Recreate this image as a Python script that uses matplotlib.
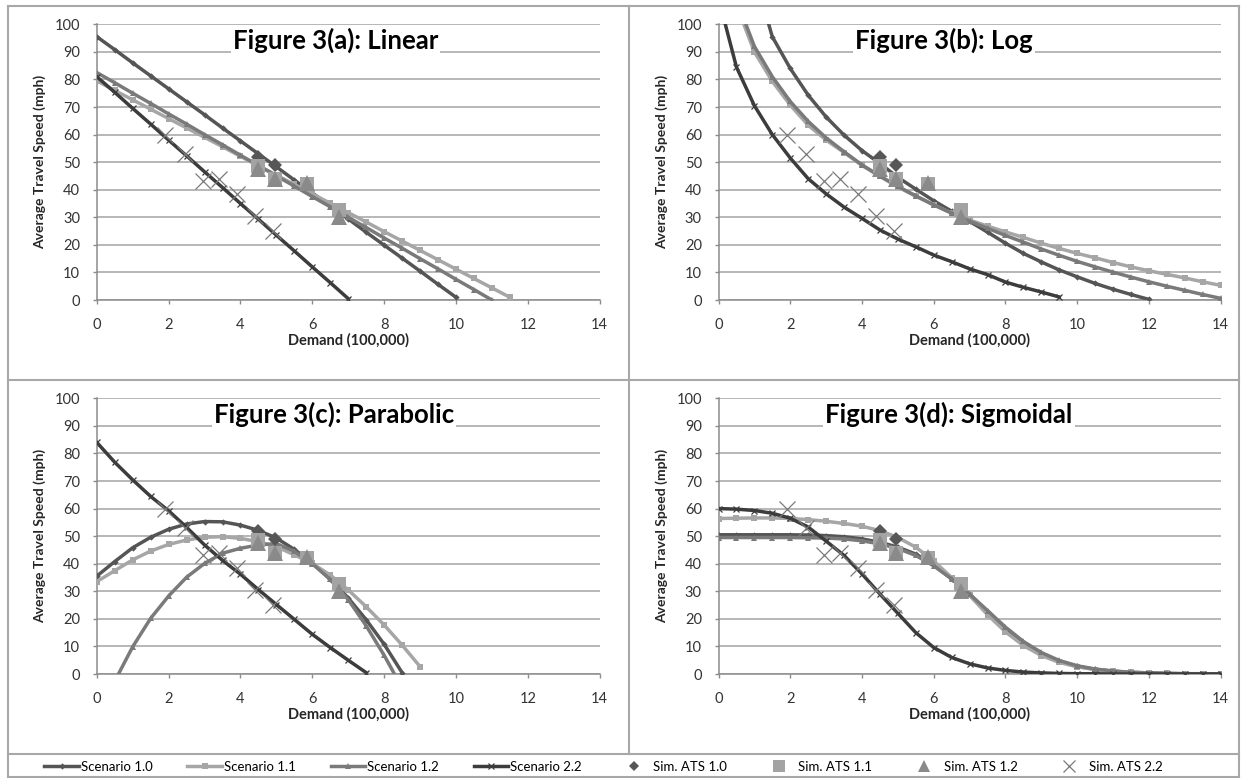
import matplotlib.pyplot as plt
from matplotlib.lines import Line2D

plt.rcParams['font.family'] = ['Lato', 'DejaVu Sans']

W, H = 1243, 778

# ---- data: Demand (100,000) vs Average Travel Speed (mph) ----
XS = [0, 0.5, 1, 1.5, 2, 2.5, 3, 3.5, 4, 4.5, 5, 5.5, 6, 6.5, 7,
      7.5, 8, 8.5, 9, 9.5, 10, 10.5, 11, 11.5, 12, 12.5, 13, 13.5, 14]

# (a) linear
a10_x = XS[:21]
a10_y = [95.5, 90.8, 86.0, 81.3, 76.6, 71.9, 67.2, 62.4, 57.7, 53.0, 48.3,
         43.5, 38.8, 34.1, 29.4, 24.6, 19.9, 15.2, 10.5, 5.7, 1.0]
a11_x = XS[:24]
a11_y = [79.5, 76.0, 72.6, 69.2, 65.8, 62.4, 59.0, 55.6, 52.1, 48.7, 45.3,
         41.9, 38.5, 35.1, 31.7, 28.3, 24.8, 21.4, 18.0, 14.6, 11.2, 7.8, 4.4, 1.0]
a12_x = XS[:23]
a12_y = [82.5, 78.8, 75.0, 71.3, 67.5, 63.8, 60.0, 56.3, 52.5, 48.8, 45.0,
         41.3, 37.5, 33.8, 30.0, 26.3, 22.5, 18.8, 15.0, 11.3, 7.5, 3.8, 0.0]
a22_x = XS[:15]
a22_y = [81.0, 75.3, 69.5, 63.8, 58.0, 52.3, 46.5, 40.8, 35.0, 29.3, 23.5,
         17.8, 12.0, 6.3, 0.5]

# (b) log
b10_x = XS[2:25]
b10_y = [118, 95.5, 84.0, 74.3, 66.4, 59.8, 54.2, 49.5, 44.5, 40.2, 36.0,
         32.2, 28.5, 24.6, 20.6, 16.9, 13.8, 10.9, 8.4, 6.0, 3.9, 2.0, 0.2]
b11_x = XS[1:]
b11_y = [107, 90.0, 79.3, 70.7, 63.4, 58.0, 53.5, 48.8, 44.8, 41.0, 37.6,
         34.5, 31.5, 29.0, 26.8, 24.7, 22.7, 20.6, 18.7, 16.9, 15.3, 13.6,
         12.0, 10.6, 9.3, 8.0, 6.6, 5.3]
b12_x = XS[1:]
b12_y = [109, 92.0, 81.0, 72.0, 64.8, 58.8, 53.8, 49.0, 45.0, 41.2, 37.8,
         34.5, 31.5, 28.6, 26.0, 23.4, 21.0, 18.5, 16.2, 14.0, 12.0, 10.1,
         8.3, 6.6, 5.0, 3.5, 2.0, 0.6]
b22_x = [0.15] + XS[1:20]
b22_y = [102, 84.5, 70.5, 60.0, 51.5, 44.0, 38.5, 33.7, 29.6, 25.4, 22.1,
         19.3, 16.3, 13.9, 11.3, 9.2, 6.5, 4.6, 2.9, 1.1]

# (c) parabolic
c10_x = XS[:18]
c10_y = [35.5, 40.8, 45.8, 49.6, 52.5, 54.4, 55.3, 55.2, 54.0, 52.1, 49.3,
         45.2, 40.2, 34.4, 27.6, 19.7, 10.8, 0.5]
c11_x = XS[:19]
c11_y = [33.5, 37.5, 41.4, 44.6, 47.0, 48.6, 49.6, 49.8, 49.2, 48.0, 46.2,
         43.2, 40.1, 35.9, 30.5, 24.4, 17.8, 10.5, 2.7]
c12_x = XS[1:18]
c12_y = [-2.6, 9.9, 20.2, 28.3, 35.1, 40.1, 43.8, 45.6, 46.8, 47.3, 44.5,
         40.0, 34.3, 27.0, 17.5, 6.8, -5.0]
c22_x = XS[:16]
c22_y = [84.0, 76.8, 70.4, 64.4, 59.2, 53.2, 46.8, 41.2, 36.2, 30.6, 25.2,
         19.8, 14.4, 9.6, 5.0, 0.5]

# (d) sigmoidal
d10_x = XS
d10_y = [50.5, 50.5, 50.5, 50.5, 50.5, 50.4, 50.2, 49.8, 49.0, 47.8, 46.0,
         43.5, 39.5, 34.5, 28.8, 22.5, 16.5, 11.3, 7.4, 4.6, 2.8, 1.7, 1.0,
         0.6, 0.4, 0.2, 0.1, 0.1, 0.0]
d11_x = XS
d11_y = [56.4, 56.5, 56.6, 56.6, 56.4, 56.0, 55.4, 54.6, 53.6, 52.0, 49.5,
         46.0, 41.0, 35.0, 28.5, 21.5, 15.3, 10.3, 6.7, 4.2, 2.6, 1.6, 1.0,
         0.6, 0.4, 0.2, 0.1, 0.1, 0.0]
d12_x = XS
d12_y = [49.5, 49.5, 49.5, 49.5, 49.5, 49.4, 49.3, 49.0, 48.3, 47.2, 45.5,
         43.0, 39.2, 34.5, 29.0, 23.0, 17.0, 11.8, 7.8, 4.9, 3.0, 1.8, 1.1,
         0.6, 0.4, 0.2, 0.1, 0.1, 0.0]
d22_x = XS
d22_y = [60.0, 59.8, 59.3, 58.3, 56.5, 53.3, 48.2, 43.0, 36.3, 29.0, 22.0,
         15.0, 9.6, 6.0, 3.7, 2.2, 1.3, 0.7, 0.4, 0.2, 0.1, 0.1, 0.0, 0.0,
         0.0, 0.0, 0.0, 0.0, 0.0]

# simulated ATS points (same in every panel)
sim10_x = [4.5, 4.95]
sim10_y = [52, 49]
sim11_x = [4.5, 4.95, 5.85, 6.75]
sim11_y = [48.7, 44.0, 42.0, 32.8]
sim12_x = [4.5, 4.95, 5.85, 6.75]
sim12_y = [47.5, 43.8, 42.3, 30.0]
sim22_x = [1.9, 2.45, 2.95, 3.4, 3.9, 4.4, 4.9]
sim22_y = [60, 53, 43, 44, 38.5, 30.5, 25]

titles = ['Figure 3(a): Linear', 'Figure 3(b): Log',
          'Figure 3(c): Parabolic', 'Figure 3(d): Sigmoidal']
title_x = [0.475, 0.449, 0.472, 0.459]

# ---- styles ----
C10, C11, C12, C22 = '#555555', '#a6a6a6', '#7a7a7a', '#3c3c3c'
SCEN = [
    dict(color=C10, marker='D', ms=3.2, label='Scenario 1.0'),
    dict(color=C11, marker='s', ms=4.2, label='Scenario 1.1'),
    dict(color=C12, marker='^', ms=4.5, label='Scenario 1.2'),
    dict(color=C22, marker='x', ms=5, mew=0.9, label='Scenario 2.2'),
]
SIM = [
    dict(color='#575757', marker='D', ms=7, mew=0, label='Sim. ATS 1.0'),
    dict(color='#a3a3a3', marker='s', ms=10, mew=0, label='Sim. ATS 1.1'),
    dict(color='#8a8a8a', marker='^', ms=11, mew=0, label='Sim. ATS 1.2'),
    dict(color='#7a7a7a', marker='x', ms=11, mew=0.9, label='Sim. ATS 2.2'),
]

panels = [
    [(a10_x, a10_y), (a11_x, a11_y), (a12_x, a12_y), (a22_x, a22_y)],
    [(b10_x, b10_y), (b11_x, b11_y), (b12_x, b12_y), (b22_x, b22_y)],
    [(c10_x, c10_y), (c11_x, c11_y), (c12_x, c12_y), (c22_x, c22_y)],
    [(d10_x, d10_y), (d11_x, d11_y), (d12_x, d12_y), (d22_x, d22_y)],
]
sims = [(sim10_x, sim10_y), (sim11_x, sim11_y), (sim12_x, sim12_y),
        (sim22_x, sim22_y)]

# axes boxes in pixels: left, top, right, bottom
boxes = [(96.8, 24.3, 599.6, 300.0), (718.5, 24.3, 1220.7, 300.0),
         (96.8, 398.3, 599.6, 674.0), (718.5, 398.3, 1220.7, 674.0)]

fig = plt.figure(figsize=(W / 100, H / 100), dpi=100)
fig.patch.set_facecolor('white')

# cell frame lines
FRAME = '#a8a8a8'
def _line(x0, y0, x1, y1):
    fig.add_artist(Line2D([x0 / W, x1 / W], [1 - y0 / H, 1 - y1 / H],
                          transform=fig.transFigure, color=FRAME, lw=1.5))

_line(8, 6, 1239, 6)
_line(8, 6, 8, 777)
_line(1239, 6, 1239, 777)
_line(8, 777, 1239, 777)
_line(628.5, 6, 628.5, 754)
_line(8, 380, 1239, 380)
_line(8, 754, 1239, 754)

for i in range(4):
    l, t, r, b = boxes[i]
    ax = fig.add_axes([l / W, 1 - b / H, (r - l) / W, (b - t) / H])
    ax.set_xlim(0, 14)
    ax.set_ylim(0, 100)
    ax.set_xticks(range(0, 15, 2))
    ax.set_yticks(range(0, 101, 10))
    ax.grid(axis='y', color='#a3a3a3', lw=1.1, zorder=0)
    ax.set_axisbelow(True)
    for s in ['top', 'right']:
        ax.spines[s].set_visible(False)
    for s in ['left', 'bottom']:
        ax.spines[s].set_color('#8c8c8c')
        ax.spines[s].set_linewidth(1.1)
    ax.tick_params(direction='out', length=3, width=1, color='#8c8c8c',
                   labelsize=10.5, labelcolor='#333333', pad=10)
    ax.tick_params(axis='y', pad=9)

    for (xs, ys), st in zip(panels[i], SCEN):
        ax.plot(xs, ys, lw=2.5, zorder=3, color=st['color'],
                marker=st['marker'], ms=st['ms'], mew=st.get('mew', 0),
                mfc=st['color'], mec=st['color'])
    for (xs, ys), st in zip(sims, SIM):
        ax.plot(xs, ys, ls='none', zorder=4, color=st['color'],
                marker=st['marker'], ms=st['ms'], mew=st['mew'])

    ax.set_xlabel('Demand (100,000)', fontsize=10.5, fontweight='bold',
                  color='#262626', va='center')
    ax.xaxis.set_label_coords(0.5, -40 / (b - t))
    ax.set_ylabel('Average Travel Speed (mph)', fontsize=10, fontweight='bold',
                  color='#262626', va='center')
    ax.yaxis.set_label_coords(-57 / (r - l), 0.5)

    ax.text(title_x[i], 91.3, titles[i], transform=ax.get_yaxis_transform(),
            ha='center', va='baseline', fontsize=18.5, fontweight='bold',
            color='black', zorder=5,
            bbox=dict(facecolor='white', edgecolor='none', pad=1.5))

# bottom legend
handles = []
for st in SCEN:
    handles.append(Line2D([], [], lw=2.5, color=st['color'], marker=st['marker'],
                          ms=st['ms'], mew=st.get('mew', 0), label=st['label']))
for st in SIM:
    handles.append(Line2D([], [], ls='none', color=st['color'],
                          marker=st['marker'], ms=st['ms'] * 0.8,
                          mew=st['mew'], label=st['label']))
fig.legend(handles=handles, ncol=8, loc='center', frameon=False,
           bbox_to_anchor=(0.4855, 1 - 767 / H), fontsize=9.5,
           handlelength=2.6, handletextpad=0.2, columnspacing=2.6)

fig.savefig('out.png', dpi=100)
